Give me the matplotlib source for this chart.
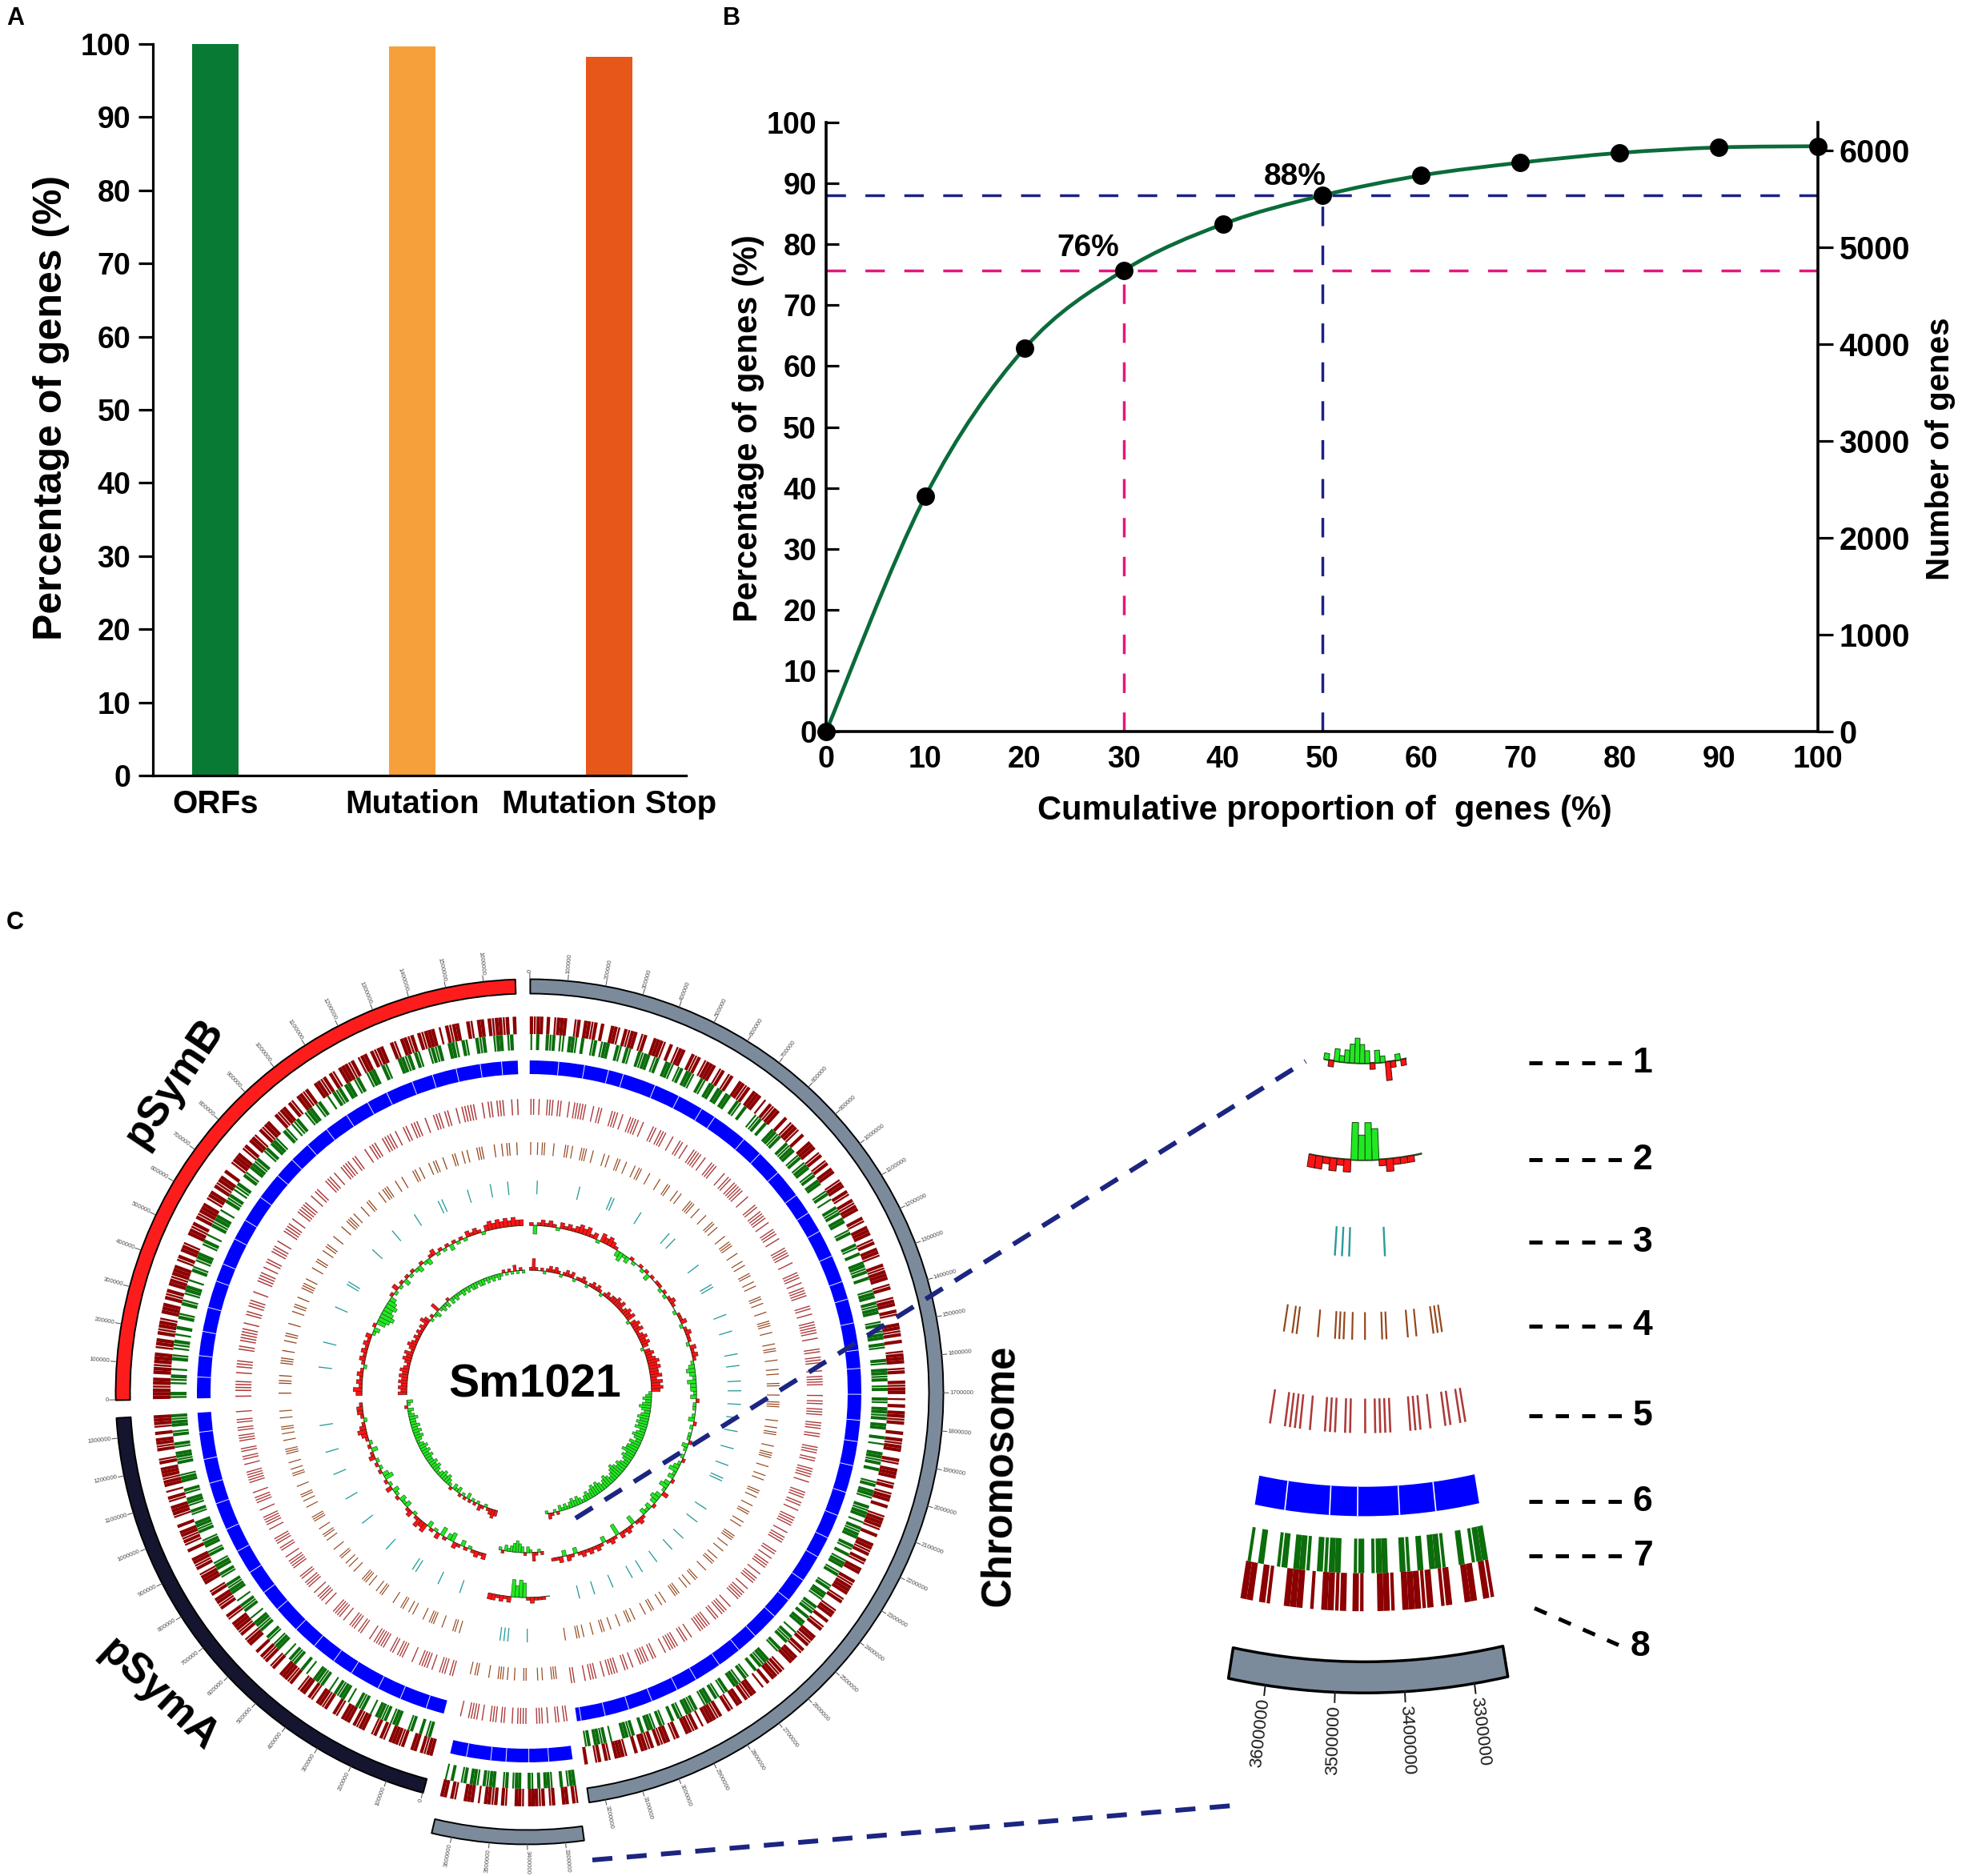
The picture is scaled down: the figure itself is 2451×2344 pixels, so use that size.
import numpy as np
import matplotlib
matplotlib.use('Agg')
import matplotlib.pyplot as plt
from matplotlib.collections import PatchCollection
from matplotlib.patches import PathPatch, Wedge
from matplotlib.path import Path
from matplotlib.transforms import Affine2D

plt.rcParams['font.family'] = ['Liberation Sans', 'DejaVu Sans']
plt.rcParams['font.weight'] = 'bold'

# ---------------- panel A data ----------------
bar_labels = ['ORFs', 'Mutation', 'Mutation Stop']
bar_values = [100.0, 99.7, 98.2]
bar_colors = ['#087a34', '#f6a03c', '#e8571a']

# ---------------- panel B data ----------------
cum_prop = [0, 10, 20, 30, 40, 50, 60, 70, 80, 90, 100]
pct_genes = [0, 38.6, 62.9, 75.7, 83.3, 88.0, 91.3, 93.4, 95.0, 95.9, 96.1]
gene_ticks = [0, 1000, 2000, 3000, 4000, 5000, 6000]
guide_x = [30, 50]
guide_y = [75.7, 88.0]
guide_text = ['76%', '88%']
guide_text_xy = [(26.4, 79.4), (47.3, 91.0)]
guide_colors = ['#e3177e', '#1c2184']

# ---------------- panel C data ----------------
replicons = ['chr', 'psyma', 'psymb']
rep_names = ['Chromosome', 'pSymA', 'pSymB']
rep_size_mb = [3.654, 1.354, 1.683]
rep_start_deg = [89.9, -104.9, 181.0]
rep_colors = ['#7b8b9b', '#15152f', '#fd1c1c']
chr_cut_mb = 3.25          # chromosome part pulled out and magnified
zoom_ticks_mb = [3.3, 3.4, 3.5, 3.6]

# ring 8 (red) and ring 7 (green): '#' block, '|' thin line, '.' empty
red_ring_chr = (
    "#|##.#.|###..|#.##|#.#..##|.#|##.|#..###|.#.|##..#|#.|###.|#."
    "|#..##|#.###.|.#|##..#.|##|.#..###.|#.|#.##..|##.#|.#|##..#|.#"
    "##.|#.##|..#|###.|#..|##.#|..##|#.#..|###.|#..#|##.|.#.##|#..#"
    ".#|##..#|.###.|#.|##.#..|###|.#..##|#.#|.##..#|###.|#..|##.#.|"
    "#..##|#.#|.###..|#|##.#.|..##|#.##.|#..#|###.|.#|##..#|.##|#.#"
    "|##.#..|###.|#.#|..##|#.##..#|.#|###.|##..|#.#|##.|.###..|#.##")
red_ring_psyma = (
    "##|#.##..#|###.|#.#|..##|#.###.|#..#|##.|#.##|..#|###..#|.#|#."
    "#..##|.#|###.|#..#|##.#|..###|.#|##..#.|#|##.#..|###.|#.|.##|#"
    "##.#|..#|##.#.|###")
red_ring_psymb = (
    "###|##.##|###.|##.#|##|.###.#|#.##|###.|#.##|..##|#.#|###.|##"
    ".#|##.#..|###.|#.##|.#|##..#|##.#|.##|#..##|#.#|.###|#.|##.#|"
    "##..#|.##|#.#|###.|.#|##..#|.##.#|##|#.#")
green_ring_chr = (
    "|.#..#|#.||.##|.#..|#.|##..#|.#|..#|##.|#..##|.|#.##|..#|.##.#"
    "#.##..#|.#...||#.#..##|#..#|##.|#.|##.|#.##..|#.|..#|#.##..|#."
    "..#|.#..##|#.#...|##.#|##..|#.|##.#|...#|.##|#.|#..#|.##|#.##.."
    "#.|..##|#.#...|#.##|..#|##.|.#|##..#|.#.|##.|#...|#.##|..#|#.#"
    ".##..|.#|#..#|...##|#.#..|#.|##..#|.|#.##|..#|##.|#.#..|#.|##."
    "#..#|##...|.#|##.#|..##|.#..|##.#.|#..##|.#|..##|#.|##.#|..#.|")
green_ring_psyma = (
    "..#|.#..#|...##|.#|##.|..#|#..|.##|#.|..#|##..|.#..#|#.|..##|."
    "|#..#|##.|..#|#.|..##|#..|#.##|..#|.##|..#|##..|#.|##.|#..##|."
    "..#|##.|#..#|.##|#")
green_ring_psymb = (
    "|#..||#.|..#|.||#.|.#..#|..#|.|##.|..#|.|##..|#.|..#|##.|..#|"
    "#.||#..#|.##|#..|#.##|..#|.||#..|##.|#..|.#|#.##.|#..|##..#|."
    "..##|#.#|..|#|#..##|.#|..#|#..|##.|#.")

# ring 6 (blue): white gaps, kb
blue_gaps_chr = [95, 180, 260, 310, 420, 505, 590, 640, 760, 830, 915, 1010,
                 1080, 1150, 1240, 1330, 1390, 1470, 1560, 1620, 1705, 1790,
                 1860, 1940, 2030, 2110, 2190, 2260, 2350, 2430, 2500, 2590,
                 2660, 2740, 2830, 2900, 2990, 3070, 3150, 3230, 3330, 3395,
                 3470, 3520, 3600]
blue_gaps_psyma = [60, 150, 230, 330, 400, 480, 560, 650, 720, 800, 880, 960,
                   1050, 1120, 1200, 1290]
blue_gaps_psymb = [70, 140, 220, 300, 390, 450, 540, 610, 700, 790, 860, 930,
                   1010, 1090, 1170, 1240, 1330, 1400, 1480, 1560, 1630]

# ring 5 (rust) and ring 4 (brown) ticks
rust_ticks_chr = (
    "||.|..|||.||..|.|||||..|.||...|||.|..||||.|...||.|||..|..||."
    "|..||||.|..|||...|.||.|||||..|...||.||||.|..|||.|...||||..|."
    "..|||.|.||||...||.|..|||||.|...||.|||..|.||||...|.||.|||..||"
    "|.||...|||.||..||||.|...|||.||.|..||||..|.|||...||.|.|||..|."
    "|||..|.||||...|.|||.||..|||||...|.||..||||.|...||.||||..|.||"
    "..||||.|..|||.|...||||.||..|.|||...||||.|..||.|||..|.||||..|")
rust_ticks_psyma = (
    "||.|||..|.||||..|...|||.||..|||||.|...||.|||..|.||||...|.|||."
    "|..|||.||...||||.|..||.|||...|.||||..|..|||.|...|||||..|.||.|"
    "|..|||.||.||..|")
rust_ticks_psymb = (
    "|.||||..|.|||...||.|||||.|..||.|||..|...||||.|.||..|||.|...||"
    "||.|..|||||..|.||...|||.|..||||.||...|.|||..||||.|..||.|||..|"
    "..|||.||..|.|||||..|.||.|||..|.|")
brown_ticks_chr = (
    "|..|.||...|....||.|...|||..|....|.|...||..|...|.||...|....|."
    "..||...|.|....|||..|...|...||.|....|..|||...|...|.|...||..|."
    "|....||.|...|...|||..|....|.||...|...|.|...||...|..|||.....|"
    "..|.||....|..|||...|...|.|....||.|...|..||...|.|....|||..|.."
    "|...|.||...|....||..|.|...|||....|.|...||..|....|.||...|...|"
    "..||...|...|.||....|..|||...|.|....||...|..|.|||...|....||.|")
brown_ticks_psyma = (
    "..|.||....|...|||..|....|.|..||...|.....||.|...|.|||....|..|."
    "|..||...|....|.||..|...|||....|..|.||...|....||.|..|...|||..."
    "|..|.||...|..|.")
brown_ticks_psymb = (
    ".|...||.|....|||..|...|.||...|....|.||..|...|||.|....|..||..."
    "|.||...|....|..|||.|...|..||....|.|||...|..|....||.|...|.||.."
    "|...||..|.|...|||....|..|.||..|.")

# ring 3 (teal) features, kb
teal_ticks_chr = [40, 260, 430, 445, 600, 780, 820, 1000, 1120, 1135, 1290,
                  1380, 1500, 1560, 1640, 1690, 1760, 1830, 1900, 1990, 2080,
                  2150, 2165, 2330, 2410, 2520, 2600, 2700, 2790, 2850, 2960,
                  3060, 3140, 3400, 3500, 3520, 3540]
teal_ticks_psyma = [80, 200, 330, 350, 520, 700, 850, 990, 1110, 1250]
teal_ticks_psymb = [150, 280, 470, 600, 615, 820, 960, 1100, 1240, 1260,
                    1400, 1520, 1610]

# rings 2 and 1: histograms, '1'-'6' red outward, 'a'-'f' green inward
hist_outer_chr = ("1c12121a2121" "232312a32321" "bcab" "1a01a1b1011a1a1210a1"
                  "12a1211a2121" "abcbacbbab" "1aa0ab1a0aa1ba0a1a"
                  "bcab1bca2bcb1bab" "121c1212d121b121" "2121b12b21"
                  "1011121" "efdf" "212122")
hist_outer_psyma = "2121a1b12cb1c2a1b3231a21bab1ab2a1cb1a1a21b1a12321a1221"
hist_outer_psymb = ("2312121a12121212ab1cdedcdcb1a2a1b1a1ab1ab12a1a1b1a1a2121"
                    "a2323232322")
hist_inner_chr = ("1410" "1a12121a1212a1121a12121a1212" "232312323a2323123232a232"
                  "343433424343"
                  "abcbcdcbcdcdcdbcdcbdcddecdcbcdcdedcbcdcbcdcdcbcbabcbcbabab1a"
                  "12a1a13ab1bcdcbab1a")
hist_inner_psyma = "2321a12a1a1b1a1bab1abcbcbabcbcbbcbcbcbabcbcbcbbcbab1ab"
hist_inner_psymb = ("3232323232123231232121212132a1ab3abab1babaabababbabbabab"
                    "aba1a1a2a1a")

# ---------------- lookup tables built from the lists ----------------
SIZE = dict(zip(replicons, rep_size_mb))
START = dict(zip(replicons, rep_start_deg))
COLOR = dict(zip(replicons, rep_colors))
RED = dict(zip(replicons, [red_ring_chr, red_ring_psyma, red_ring_psymb]))
GREEN = dict(zip(replicons, [green_ring_chr, green_ring_psyma, green_ring_psymb]))
BLUE = dict(zip(replicons, [blue_gaps_chr, blue_gaps_psyma, blue_gaps_psymb]))
RUST = dict(zip(replicons, [rust_ticks_chr, rust_ticks_psyma, rust_ticks_psymb]))
BROWN = dict(zip(replicons, [brown_ticks_chr, brown_ticks_psyma, brown_ticks_psymb]))
TEAL = dict(zip(replicons, [teal_ticks_chr, teal_ticks_psyma, teal_ticks_psymb]))
HOUT = dict(zip(replicons, [hist_outer_chr, hist_outer_psyma, hist_outer_psymb]))
HIN = dict(zip(replicons, [hist_inner_chr, hist_inner_psyma, hist_inner_psymb]))
LEVEL = {c: i + 1 for i, c in enumerate('123456')}
LEVEL.update({c: -(i + 1) for i, c in enumerate('abcdef')})
DEG_PER_MB = 52.9

W, H = 2451, 2344
fig = plt.figure(figsize=(W / 100, H / 100), dpi=100)

# full-figure axes in pixel coordinates (y down) for panel C and labels
axC = fig.add_axes([0, 0, 1, 1])
axC.set_xlim(0, W)
axC.set_ylim(H, 0)
axC.set_autoscale_on(False)
axC.axis('off')


def px_axes(left, top, right, bottom):
    return fig.add_axes([left / W, 1 - bottom / H, (right - left) / W, (bottom - top) / H])


# ---------------- panel A ----------------
axA = px_axes(191, 55, 857, 969)
axA.set_facecolor('none')
xa = np.arange(len(bar_labels))
axA.bar(xa, bar_values, width=0.236, color=bar_colors)
axA.set_xlim(-0.317, 2.39)
axA.set_ylim(0, 100)
axA.set_yticks(range(0, 101, 10))
axA.set_xticks(xa, bar_labels)
for s in ['top', 'right']:
    axA.spines[s].set_visible(False)
for s in ['left', 'bottom']:
    axA.spines[s].set_linewidth(2.3)
axA.tick_params(axis='y', direction='out', length=13, width=2.3, labelsize=27, pad=7)
axA.tick_params(axis='x', length=0, labelsize=29, pad=12)

# ---------------- panel B ----------------
axB = px_axes(1032, 153, 2271, 914)
axB.set_facecolor('none')
pts = np.column_stack([cum_prop, pct_genes]).astype(float)
verts, codes = [pts[0]], [Path.MOVETO]
for i in range(len(pts) - 1):
    p0, p1 = pts[max(i - 1, 0)], pts[i]
    p2, p3 = pts[i + 1], pts[min(i + 2, len(pts) - 1)]
    verts += [p1 + (p2 - p0) / 6, p2 - (p3 - p1) / 6, p2]
    codes += [Path.CURVE4] * 3
axB.add_patch(PathPatch(Path(verts, codes), fill=False, edgecolor='#0b6b3a', lw=3.4, zorder=3))
for gx, gy, gc in zip(guide_x, guide_y, guide_colors):
    axB.plot([0, 100], [gy, gy], color=gc, lw=2.5, dashes=(7, 7), zorder=2)
    axB.plot([gx, gx], [0, gy], color=gc, lw=2.5, dashes=(7, 7), zorder=2)
axB.plot(cum_prop, pct_genes, 'o', color='black', ms=15.5, zorder=5, clip_on=False)
for (tx, ty), gt in zip(guide_text_xy, guide_text):
    axB.text(tx, ty, gt, fontsize=28, ha='center', va='center')
axB.set_xlim(0, 100)
axB.set_ylim(0, 100)
axB.set_xticks(cum_prop)
axB.set_yticks(range(0, 101, 10))
for s in ['top', 'right']:
    axB.spines[s].set_visible(False)
for s in ['left', 'bottom']:
    axB.spines[s].set_linewidth(2.6)
axB.tick_params(axis='y', direction='in', length=11.5, width=2.3, labelsize=27, pad=8.6)
axB.tick_params(axis='x', length=0, labelsize=27, pad=12)
axB2 = axB.twinx()
axB2.set_ylim(0, 6290)
axB2.set_yticks(gene_ticks)
for s in ['top', 'left', 'bottom']:
    axB2.spines[s].set_visible(False)
axB2.spines['right'].set_linewidth(2.6)
axB2.tick_params(axis='y', direction='out', length=14, width=2.3, labelsize=28.5, pad=5)

# axis titles and panel letters
axC.text(64, 509, 'Percentage of genes (%)', fontsize=36, rotation=90, ha='center', va='center')
axC.text(935, 535, 'Percentage of genes (%)', fontsize=30, rotation=90, ha='center', va='center')
axC.text(2424, 561, 'Number of genes', fontsize=29, rotation=90, ha='center', va='center')
axC.text(1655, 1013, 'Cumulative proportion of  genes (%)', fontsize=30, ha='center', va='center')
for letter, lx, ly in [('A', 19, 23), ('B', 914, 23), ('C', 19, 1153)]:
    axC.text(lx, ly, letter, fontsize=22, ha='center', va='center')

# ---------------- panel C: circular genome ----------------
CX, CY = 661, 1740
R_IDEO = (499, 517)
R_RED, R_GREEN, R_BLUE = (448, 470), (428, 448), (398, 415)
R_RUST, R_BROWN, R_TEAL = (347, 367), (297, 313), (248, 265)
B_OUT, B_IN, UNIT = 209, 153, 3.6


def ang(rep, mb):
    return START[rep] - DEG_PER_MB * mb


def wedge(rep, a, b, r0, r1):
    return Wedge((0, 0), r1, ang(rep, b), ang(rep, a), width=r1 - r0)


def barcode(rep, code, lo, hi, r0, r1, thin=0.36):
    w = SIZE[rep] / len(code)
    out = []
    for i, c in enumerate(code):
        a = i * w
        if c == '.' or not (lo <= a + w / 2 <= hi):
            continue
        if c == '#':
            out.append(wedge(rep, a, a + w, r0, r1))
        else:
            out.append(wedge(rep, a + (0.5 - thin / 2) * w, a + (0.5 + thin / 2) * w, r0, r1))
    return out


def marks(rep, kb, lo, hi, r0, r1, half):
    return [wedge(rep, k / 1000 - half, k / 1000 + half, r0, r1)
            for k in kb if lo <= k / 1000 <= hi]


def histogram(rep, code, lo, hi, base):
    w = SIZE[rep] / len(code)
    red, green = [], []
    for i, c in enumerate(code):
        v = LEVEL.get(c, 0)
        a = i * w
        if v == 0 or not (lo <= a + w / 2 <= hi):
            continue
        if v > 0:
            red.append(wedge(rep, a, a + w, base, base + UNIT * v))
        else:
            green.append(wedge(rep, a, a + w, base + UNIT * v, base))
    return red, green


def draw_genome(ax, aff, segs, lw=1.0):
    tr = aff + ax.transData

    def coll(patches, **kw):
        if patches:
            ax.add_collection(PatchCollection(patches, transform=tr, **kw))

    for rep, lo, hi in segs:
        coll([wedge(rep, lo, hi, *R_IDEO)], facecolors=COLOR[rep], edgecolors='black',
             linewidths=1.4 * lw)
        coll(barcode(rep, RED[rep], lo, hi, *R_RED, thin=0.55), facecolors='#8b0000',
             edgecolors='none')
        coll(barcode(rep, GREEN[rep], lo, hi, *R_GREEN, thin=0.55), facecolors='#0b6d0b',
             edgecolors='none')
        coll([wedge(rep, lo, hi, *R_BLUE)], facecolors='#0000ff', edgecolors='none')
        coll(marks(rep, BLUE[rep], lo, hi, *R_BLUE, half=0.0012), facecolors='white',
             edgecolors='none')
        coll(barcode(rep, RUST[rep], lo, hi, *R_RUST, thin=0.42), facecolors='#ad3b3b',
             edgecolors='none')
        coll(barcode(rep, BROWN[rep], lo, hi, *R_BROWN, thin=0.42), facecolors='#95461c',
             edgecolors='none')
        coll(marks(rep, TEAL[rep], lo, hi, *R_TEAL, half=0.0028), facecolors='#2a9c9c',
             edgecolors='none')
        for base, code in [(B_OUT, HOUT[rep]), (B_IN, HIN[rep])]:
            coll([wedge(rep, lo, hi, base - 0.6, base + 0.6)], facecolors='#2b4a22',
                 edgecolors='none')
            red, green = histogram(rep, code, lo, hi, base)
            coll(red, facecolors='#ff1414', edgecolors='#4a1010', linewidths=0.4 * lw)
            coll(green, facecolors='#22e822', edgecolors='#164a16', linewidths=0.4 * lw)


def ideogram_ticks(ax, aff, rep, positions, fs, tick_len, r_lab, color, lw):
    for p in positions:
        t = np.radians(ang(rep, p))
        u = np.array([np.cos(t), np.sin(t)])
        a, b, c = aff.transform(np.array([R_IDEO[1] * u, (R_IDEO[1] + tick_len) * u, r_lab * u]))
        ax.plot([a[0], b[0]], [a[1], b[1]], color=color, lw=lw)
        sa = np.degrees(np.arctan2(-(b[1] - a[1]), b[0] - a[0]))
        rot, ha = (sa, 'left') if b[0] - a[0] >= 0 else (sa + 180, 'right')
        ax.text(c[0], c[1], f'{int(round(p * 1e6))}', rotation=rot, ha=ha, va='center',
                rotation_mode='anchor', fontsize=fs, fontweight='normal', color=color)


main_aff = Affine2D().scale(1, -1).translate(CX, CY)
piece_aff = Affine2D().translate(-2.5, -47).scale(1, -1).translate(CX, CY)
inset_aff = Affine2D().rotate_deg(3.05).scale(1.83, -2.16).translate(1704, 998)

main_segs = [('chr', 0, chr_cut_mb - 0.006), ('psyma', 0, SIZE['psyma']),
             ('psymb', 0, SIZE['psymb'])]
piece_segs = [('chr', chr_cut_mb + 0.002, SIZE['chr'])]
draw_genome(axC, main_aff, main_segs)
draw_genome(axC, piece_aff, piece_segs)
draw_genome(axC, inset_aff, piece_segs, lw=1.8)

for rep, lo, hi in main_segs:
    pos = [k / 10 for k in range(int(SIZE[rep] * 10) + 1) if lo <= k / 10 <= hi]
    ideogram_ticks(axC, main_aff, rep, pos, 5.6, 7, 525, '#4d4d4d', 0.7)
ideogram_ticks(axC, piece_aff, 'chr', zoom_ticks_mb, 5.6, 7, 525, '#4d4d4d', 0.7)
ideogram_ticks(axC, inset_aff, 'chr', zoom_ticks_mb, 16, 6, 525, '#1a1a1a', 1.4)

axC.text(668, 1730, 'Sm1021', fontsize=41, ha='center', va='center')
axC.text(218, 1353, rep_names[2], fontsize=38, rotation=56, ha='center', va='center')
axC.text(198, 2118, rep_names[1], fontsize=38, rotation=-43, ha='center', va='center')
axC.text(1250, 1843, rep_names[0], fontsize=36.5, rotation=89, ha='center', va='center')

# connectors between the pulled-out part and its magnified view
for (x0, y0), (x1, y1) in [((719, 1897), (1631, 1326)), ((740, 2324), (1552, 2255))]:
    axC.plot([x0, x1], [y0, y1], color='#1c2580', lw=4.3, dashes=(4.2, 3),
             dash_capstyle='butt')

# numbered ring labels
ring_mid = [B_IN, B_OUT, np.mean(R_TEAL), np.mean(R_BROWN), np.mean(R_RUST), np.mean(R_BLUE),
            np.mean(R_GREEN), np.mean(R_RED)]
tm = np.radians(-93.05)
for k, rm in enumerate(ring_mid, start=1):
    y = inset_aff.transform([rm * np.cos(tm), rm * np.sin(tm)])[1]
    if k < 8:
        axC.plot([1910, 2029], [y, y], color='black', lw=3.6, dashes=(3.3, 3.3),
                 dash_capstyle='butt')
        axC.text(2052, y, str(k), fontsize=32, ha='center', va='center')
    else:
        axC.plot([1917, 2022], [y + 20, y + 66], color='black', lw=3.6, dashes=(3.3, 3.3),
                 dash_capstyle='butt')
        axC.text(2049, y + 68, str(k), fontsize=32, ha='center', va='center')

fig.savefig('out.png', dpi=100)
